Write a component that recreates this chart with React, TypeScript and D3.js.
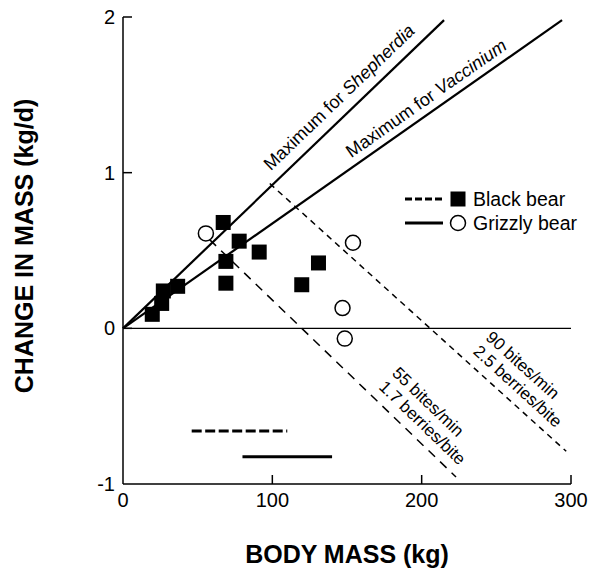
import React from "react";
import * as d3 from "d3";

const W = 589;
const H = 570;

// Axis ticks
const xTicks = [0, 100, 200, 300];
const yTicks = [-1, 0, 1, 2];

// Black bear (filled squares)
const blackX = [19.6, 25.9, 27, 36.6, 67.1, 77.8, 68.9, 68.9, 91.2, 119.7, 130.9];
const blackY = [0.09, 0.16, 0.24, 0.27, 0.68, 0.56, 0.43, 0.29, 0.49, 0.28, 0.42];

// Grizzly bear (open circles)
const grizzlyX = [55.5, 154, 147, 148.5];
const grizzlyY = [0.61, 0.55, 0.13, -0.066];

// Maximum lines (from origin)
const shepherdiaLine: [number, number][] = [[0, 0], [215, 1.98]];
const vacciniumLine: [number, number][] = [[0, 0], [294, 1.98]];

// Foraging isoclines (dashed)
const line55: [number, number][] = [[58, 0.57], [223, -0.955]];
const line90: [number, number][] = [[98.3, 0.93], [296.8, -0.79]];

// Body mass ranges
const blackRange = [46, 110];
const blackRangeY = -0.66;
const grizzlyRange = [80, 140];
const grizzlyRangeY = -0.825;

const FONT = "'Liberation Sans', Arial, Helvetica, sans-serif";

export default function App() {
  const x = d3.scaleLinear().domain([0, 300]).range([123, 571]);
  const y = d3.scaleLinear().domain([-1, 2]).range([484, 17]);
  const line = d3
    .line<[number, number]>()
    .x((d) => x(d[0]))
    .y((d) => y(d[1]));

  const angleOf = (l: [number, number][]) => {
    const dx = x(l[1][0]) - x(l[0][0]);
    const dy = y(l[1][1]) - y(l[0][1]);
    return (Math.atan2(dy, dx) * 180) / Math.PI;
  };
  const pointAt = (l: [number, number][], t: number) => {
    const px = x(l[0][0]) + t * (x(l[1][0]) - x(l[0][0]));
    const py = y(l[0][1]) + t * (y(l[1][1]) - y(l[0][1]));
    return [px, py];
  };
  const onLine = (l: [number, number][], xv: number) => {
    const slope = (l[1][1] - l[0][1]) / (l[1][0] - l[0][0]);
    return [x(xv), y(l[0][1] + slope * (xv - l[0][0]))];
  };

  const aS = angleOf(shepherdiaLine);
  const aV = angleOf(vacciniumLine);
  const a55 = angleOf(line55);
  const a90 = angleOf(line90);
  const pS = onLine(shepherdiaLine, 104);
  const pV = onLine(vacciniumLine, 156);
  const p55 = pointAt(line55, 0.655);
  const p90 = pointAt(line90, 0.66);

  const sq = 15;
  const r = 7.5;

  return (
    <svg
      width={W}
      height={H}
      style={{ position: "absolute", left: 0, top: 0, background: "#fff" }}
      fontFamily={FONT}
    >
      <rect width={W} height={H} fill="#fff" />
      {/* zero line */}
      <line x1={x(0)} x2={x(300)} y1={y(0)} y2={y(0)} stroke="#000" strokeWidth={1.2} />
      {/* axes */}
      <line x1={x(0)} x2={x(0)} y1={y(-1)} y2={y(2)} stroke="#000" strokeWidth={1.5} />
      <line x1={x(0)} x2={x(300)} y1={y(-1)} y2={y(-1)} stroke="#000" strokeWidth={1.5} />
      {xTicks.map((t) => (
        <g key={"xt" + t}>
          {t > 0 && (
            <line x1={x(t)} x2={x(t)} y1={y(-1)} y2={y(-1) - 9} stroke="#000" strokeWidth={1.5} />
          )}
          <text x={x(t)} y={507} textAnchor="middle" fontSize={20}>
            {t}
          </text>
        </g>
      ))}
      {yTicks.map((t) => (
        <g key={"yt" + t}>
          {t > -1 && (
            <line x1={x(0)} x2={x(0) + 9} y1={y(t)} y2={y(t)} stroke="#000" strokeWidth={1.5} />
          )}
          <text x={115} y={y(t)} dy="0.35em" textAnchor="end" fontSize={20}>
            {t}
          </text>
        </g>
      ))}
      {/* axis titles */}
      <text x={347} y={563} textAnchor="middle" fontSize={25} fontWeight="bold">
        BODY MASS (kg)
      </text>
      <text
        transform={`translate(33,246) rotate(-90)`}
        textAnchor="middle"
        fontSize={25}
        fontWeight="bold"
      >
        CHANGE IN MASS (kg/d)
      </text>

      {/* maximum lines */}
      <path d={line(shepherdiaLine)!} fill="none" stroke="#000" strokeWidth={2.2} />
      <path d={line(vacciniumLine)!} fill="none" stroke="#000" strokeWidth={2.2} />
      <text transform={`translate(${pS[0]},${pS[1]}) rotate(${aS})`} dy={-11} fontSize={18}>
        Maximum for <tspan fontStyle="italic">Shepherdia</tspan>
      </text>
      <text transform={`translate(${pV[0]},${pV[1]}) rotate(${aV})`} dy={-8} fontSize={18}>
        Maximum for <tspan fontStyle="italic">Vaccinium</tspan>
      </text>

      {/* isoclines */}
      <path d={line(line55)!} fill="none" stroke="#000" strokeWidth={1.5} strokeDasharray="9,7" />
      <path d={line(line90)!} fill="none" stroke="#000" strokeWidth={1.5} strokeDasharray="6,5" />
      <g transform={`translate(${p55[0]},${p55[1]}) rotate(${a55})`} fontSize={17}>
        <text y={-29}>55 bites/min</text>
        <text y={-10}>1.7 berries/bite</text>
      </g>
      <g transform={`translate(${p90[0]},${p90[1]}) rotate(${a90})`} fontSize={17}>
        <text y={-29}>90 bites/min</text>
        <text y={-10}>2.5 berries/bite</text>
      </g>

      {/* body mass ranges */}
      <line
        x1={x(blackRange[0])}
        x2={x(blackRange[1])}
        y1={y(blackRangeY)}
        y2={y(blackRangeY)}
        stroke="#000"
        strokeWidth={3}
        strokeDasharray="10,3.5"
      />
      <line
        x1={x(grizzlyRange[0])}
        x2={x(grizzlyRange[1])}
        y1={y(grizzlyRangeY)}
        y2={y(grizzlyRangeY)}
        stroke="#000"
        strokeWidth={3}
      />

      {/* points */}
      {blackX.map((bx, i) => (
        <rect
          key={"b" + i}
          x={x(bx) - sq / 2}
          y={y(blackY[i]) - sq / 2}
          width={sq}
          height={sq}
          fill="#000"
        />
      ))}
      {grizzlyX.map((gx, i) => (
        <circle
          key={"g" + i}
          cx={x(gx)}
          cy={y(grizzlyY[i])}
          r={r}
          fill="#fff"
          stroke="#000"
          strokeWidth={1.5}
        />
      ))}

      {/* legend */}
      <g>
        <line x1={405} x2={443} y1={199} y2={199} stroke="#000" strokeWidth={3} strokeDasharray="7,3" />
        <rect x={458 - sq / 2} y={199 - sq / 2} width={sq} height={sq} fill="#000" />
        <text x={473} y={199} dy="0.35em" fontSize={19.5}>
          Black bear
        </text>
        <line x1={405} x2={443} y1={223} y2={223} stroke="#000" strokeWidth={3} />
        <circle cx={458} cy={223} r={r} fill="#fff" stroke="#000" strokeWidth={1.5} />
        <text x={473} y={223} dy="0.35em" fontSize={19.5}>
          Grizzly bear
        </text>
      </g>
    </svg>
  );
}
